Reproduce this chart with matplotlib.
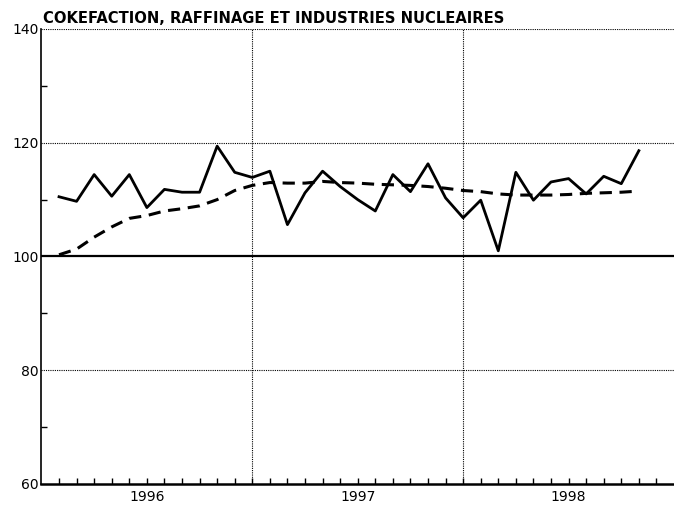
import matplotlib
matplotlib.use("Agg")
import matplotlib.pyplot as plt
from matplotlib.ticker import MultipleLocator

title = "COKEFACTION, RAFFINAGE ET INDUSTRIES NUCLEAIRES"
years = ["1996", "1997", "1998"]
months = list(range(1, 35))
raw = [110.5, 109.7, 114.4, 110.6, 114.4, 108.6, 111.8, 111.3, 111.3, 119.4,
       114.8, 113.9, 115.0, 105.6, 111.2, 115.0, 112.3, 110.0, 108.0, 114.4,
       111.4, 116.3, 110.3, 106.8, 109.9, 101.0, 114.8, 109.9, 113.1, 113.7,
       111.0, 114.1, 112.8, 118.6]
trend = [100.3, 101.3, 103.4, 105.2, 106.7, 107.2, 108.0, 108.4, 108.9, 110.0,
         111.6, 112.5, 113.0, 112.9, 112.9, 113.2, 113.0, 112.9, 112.7, 112.6,
         112.5, 112.3, 112.0, 111.6, 111.4, 111.0, 110.8, 110.8, 110.8, 110.9,
         111.1, 111.2, 111.3, 111.5]

plt.rcParams['font.family'] = ['DejaVu Sans']
fig = plt.figure(figsize=(6.74, 5.05), dpi=100)
ax = fig.add_axes([0.0615, 0.0416, 0.9385, 0.901])

ax.set_xlim(0, 36)
ax.set_ylim(60, 140)

# gridlines
for y in (80, 120, 140):
    ax.axhline(y, color='black', lw=0.8, ls=(0, (1, 1)), zorder=1)
ax.axhline(100, color='black', lw=1.6, zorder=2)
for x in (12, 24):
    ax.axvline(x, color='black', lw=0.8, ls=(0, (1, 1)), zorder=1)

ax.plot(months, raw, color='black', lw=2.0, zorder=3)
ax.plot(months, trend, color='black', lw=2.2, ls=(0, (4, 2.5)), zorder=3)

for s in ('top', 'right'):
    ax.spines[s].set_visible(False)
ax.spines['left'].set_linewidth(1.2)
ax.spines['bottom'].set_linewidth(1.8)

ax.set_yticks([60, 80, 100, 120, 140])
ax.yaxis.set_minor_locator(MultipleLocator(10))
ax.tick_params(axis='y', which='major', length=0, labelsize=10, pad=2)
ax.tick_params(axis='y', which='minor', direction='in', length=4, width=1)
ax.set_xticks(range(1, 36))
ax.tick_params(axis='x', which='major', direction='in', length=4, width=1,
               labelbottom=False)

for i, yr in enumerate(years):
    ax.annotate(yr, xy=(6 + 12 * i, 0), xycoords=('data', 'axes fraction'),
                xytext=(0, -4.5), textcoords='offset points',
                ha='center', va='top', fontsize=10)

ax.text(0.1, 140.6, title, ha='left', va='bottom', fontsize=10.6,
        fontweight='bold')

fig.savefig("out.png", dpi=100)
